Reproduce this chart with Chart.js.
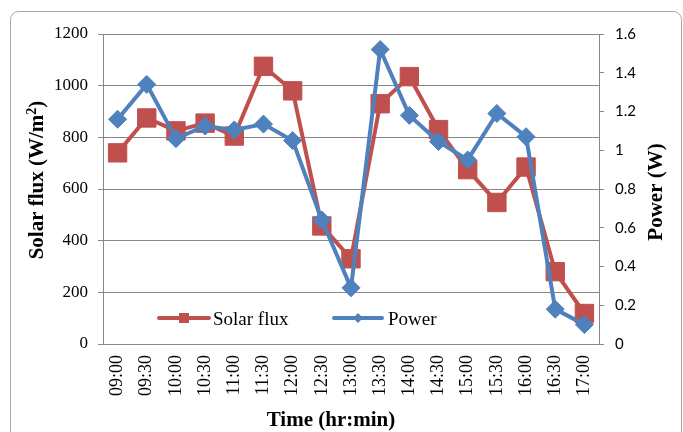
<!DOCTYPE html>
<html>
<head>
<meta charset="utf-8">
<script src="https://cdn.jsdelivr.net/npm/chart.js@4"></script>
<style>
  body { margin: 0; background: #fff; }
</style>
</head>
<body>
<canvas id="myChart" width="683" height="432"></canvas>
<script>
'use strict';
const timeLabels = ['09:00', '09:30', '10:00', '10:30', '11:00', '11:30', '12:00', '12:30', '13:00',
  '13:30', '14:00', '14:30', '15:00', '15:30', '16:00', '16:30', '17:00'];
const solarFlux = [740, 875, 825, 855, 805, 1075, 980, 457, 330, 930, 1035, 830, 675, 548, 685, 280, 118];
const power = [1.16, 1.34, 1.06, 1.125, 1.105, 1.135, 1.05, 0.64, 0.29, 1.52, 1.18, 1.045, 0.95, 1.19, 1.07, 0.18, 0.10];
const fluxTicks = ['0', '200', '400', '600', '800', '1000', '1200'];
const powerTicks = ['0', '0.2', '0.4', '0.6', '0.8', '1', '1.2', '1.4', '1.6'];

const red = '#C0504D';
const blue = '#4F81BD';
const gridColor = '#868686';
const serif = "'Liberation Serif', 'Times New Roman', serif";

// frame, axis titles and the legend inside the plot
const extras = {
  id: 'extras',
  beforeDraw(chart) {
    const ctx = chart.ctx;
    ctx.save();
    ctx.fillStyle = '#fff';
    ctx.fillRect(0, 0, chart.width, chart.height);
    ctx.strokeStyle = '#a6a6a6';
    ctx.lineWidth = 1;
    ctx.beginPath();
    ctx.roundRect(10.5, 11.5, 671, 440, 8);
    ctx.stroke();
    ctx.restore();
  },
  afterDraw(chart) {
    const ctx = chart.ctx;
    ctx.save();
    ctx.fillStyle = '#000';
    ctx.font = 'bold 21px ' + serif;
    ctx.textAlign = 'center';
    ctx.textBaseline = 'middle';

    // left title with a real superscript 2
    ctx.save();
    ctx.translate(38, 180);
    ctx.rotate(-Math.PI / 2);
    const mainPart = 'Solar flux (W/m';
    const bigFont = 'bold 21px ' + serif;
    const supFont = 'bold 14px ' + serif;
    ctx.font = bigFont;
    const w1 = ctx.measureText(mainPart).width;
    const w3 = ctx.measureText(')').width;
    ctx.font = supFont;
    const w2 = ctx.measureText('2').width;
    let x0 = -(w1 + w2 + w3) / 2;
    ctx.textAlign = 'left';
    ctx.font = bigFont;
    ctx.fillText(mainPart, x0, 0);
    ctx.font = supFont;
    ctx.fillText('2', x0 + w1, -6);
    ctx.font = bigFont;
    ctx.fillText(')', x0 + w1 + w2, 0);
    ctx.restore();

    ctx.font = 'bold 21px ' + serif;
    ctx.save();
    ctx.translate(657, 192);
    ctx.rotate(-Math.PI / 2);
    ctx.fillText('Power (W)', 0, 0);
    ctx.restore();

    ctx.textBaseline = 'alphabetic';
    ctx.fillText('Time (hr:min)', 331, 426);

    // legend
    ctx.lineWidth = 4;
    ctx.lineCap = 'round';
    ctx.strokeStyle = red;
    ctx.beginPath();
    ctx.moveTo(159, 318);
    ctx.lineTo(209, 318);
    ctx.stroke();
    ctx.fillStyle = red;
    ctx.fillRect(179, 313, 10, 10);

    ctx.strokeStyle = blue;
    ctx.beginPath();
    ctx.moveTo(334, 318);
    ctx.lineTo(382, 318);
    ctx.stroke();
    ctx.fillStyle = blue;
    ctx.beginPath();
    ctx.moveTo(358, 313);
    ctx.lineTo(363, 318);
    ctx.lineTo(358, 323);
    ctx.lineTo(353, 318);
    ctx.closePath();
    ctx.fill();

    ctx.fillStyle = '#000';
    ctx.font = '19px ' + serif;
    ctx.textAlign = 'left';
    ctx.fillText('Solar flux', 213, 325);
    ctx.fillText('Power', 388, 325);
    ctx.restore();
  }
};

const ctx = document.getElementById('myChart').getContext('2d');
const myChart = new Chart(ctx, {
  type: 'line',
  data: {
    labels: timeLabels,
    datasets: [{
      label: 'Solar flux',
      data: solarFlux,
      yAxisID: 'y',
      order: 2,
      borderColor: red,
      backgroundColor: red,
      borderWidth: 4,
      pointStyle: 'rect',
      pointRadius: 13,
      pointBorderWidth: 1,
      pointBorderColor: red,
      pointBackgroundColor: red,
      tension: 0
    }, {
      label: 'Power',
      data: power,
      yAxisID: 'y2',
      order: 1,
      borderColor: blue,
      backgroundColor: blue,
      borderWidth: 4,
      pointStyle: 'rectRot',
      pointRadius: 9,
      pointBorderWidth: 1,
      pointBorderColor: blue,
      pointBackgroundColor: blue,
      tension: 0
    }]
  },
  options: {
    responsive: false,
    animation: false,
    events: [],
    layout: { padding: { top: 34, left: 0, right: 0, bottom: 0 } },
    plugins: {
      legend: { display: false },
      tooltip: { enabled: false }
    },
    scales: {
      x: {
        offset: true,
        grid: { display: false, drawTicks: false },
        border: { display: true, color: gridColor, width: 1 },
        ticks: {
          color: '#000',
          font: { family: serif, size: 18 },
          minRotation: 90,
          maxRotation: 90,
          padding: 11,
          autoSkip: false
        },
        afterFit: (scale) => { scale.height = 88; }
      },
      y: {
        position: 'left',
        min: 0,
        max: 1200,
        grid: { color: gridColor, tickLength: 5, lineWidth: 1 },
        border: { color: gridColor, width: 1 },
        ticks: {
          stepSize: 200,
          color: '#000',
          padding: 10,
          font: { family: serif, size: 17 },
          callback: (v, i) => fluxTicks[i]
        },
        afterFit: (scale) => { scale.width = 103; }
      },
      y2: {
        position: 'right',
        min: 0,
        max: 1.6,
        grid: { drawOnChartArea: false, color: gridColor, tickLength: 5 },
        border: { color: gridColor, width: 1 },
        ticks: {
          stepSize: 0.2,
          color: '#000',
          padding: 11,
          font: { family: 'Lato', size: 15 },
          callback: (v, i) => powerTicks[i]
        },
        afterFit: (scale) => { scale.width = 84; }
      }
    }
  },
  plugins: [extras]
});
</script>
</body>
</html>
